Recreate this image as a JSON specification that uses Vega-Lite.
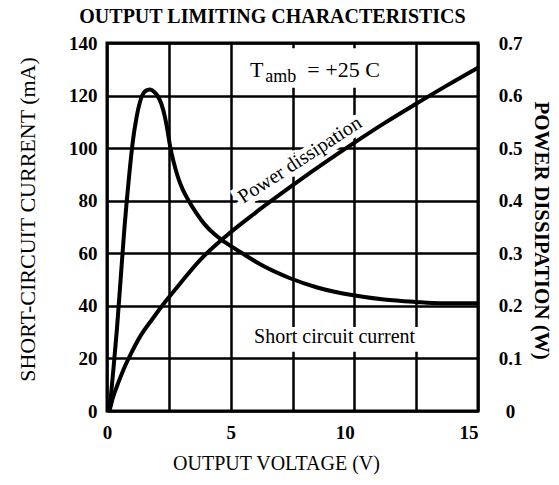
{
  "$schema": "https://vega.github.io/schema/vega-lite/v6.json",
  "width": 371,
  "height": 368,
  "autosize": "none",
  "padding": {"left": 107, "top": 43, "right": 81, "bottom": 74},
  "background": "white",
  "title": {
    "text": "OUTPUT LIMITING CHARACTERISTICS",
    "font": "Liberation Serif",
    "fontSize": 20,
    "fontWeight": "bold",
    "color": "black",
    "anchor": "middle",
    "frame": "group",
    "baseline": "alphabetic",
    "offset": -9,
    "dx": -20
  },
  "config": {
    "view": {"stroke": "black", "strokeWidth": 3},
    "font": "Liberation Serif",
    "axis": {
      "domain": false,
      "ticks": false,
      "gridColor": "black",
      "gridOpacity": 1,
      "gridWidth": 2.5,
      "labelColor": "black",
      "titleColor": "black",
      "labelFont": "Liberation Serif",
      "titleFont": "Liberation Serif",
      "labelFontWeight": "bold",
      "labelFontSize": 19
    }
  },
  "datasets": {
    "current": [
      {"V": 0.1, "I": 0}, {"V": 0.25, "I": 15}, {"V": 0.4, "I": 31}, {"V": 0.55, "I": 50},
      {"V": 0.7, "I": 69}, {"V": 0.9, "I": 90}, {"V": 1.05, "I": 103}, {"V": 1.2, "I": 112},
      {"V": 1.4, "I": 119.5}, {"V": 1.6, "I": 122}, {"V": 1.75, "I": 122.3}, {"V": 1.9, "I": 121.5},
      {"V": 2.05, "I": 119.8}, {"V": 2.2, "I": 116.8}, {"V": 2.35, "I": 111.5}, {"V": 2.45, "I": 106.5},
      {"V": 2.55, "I": 100.8}, {"V": 2.7, "I": 94.5}, {"V": 2.85, "I": 89.5}, {"V": 3.05, "I": 84.5},
      {"V": 3.3, "I": 80}, {"V": 3.6, "I": 75.5}, {"V": 3.95, "I": 71}, {"V": 4.35, "I": 67.2},
      {"V": 4.77, "I": 64.2}, {"V": 5.5, "I": 59.8}, {"V": 6.25, "I": 55.5}, {"V": 7.4, "I": 50.5},
      {"V": 8.5, "I": 47}, {"V": 9.96, "I": 44}, {"V": 11.2, "I": 42.4}, {"V": 12.45, "I": 41.5},
      {"V": 13.5, "I": 41}, {"V": 15, "I": 41}
    ],
    "power": [
      {"V": 0.1, "P": 0}, {"V": 0.25, "P": 0.027}, {"V": 0.45, "P": 0.053}, {"V": 0.66, "P": 0.078},
      {"V": 1.0, "P": 0.112}, {"V": 1.33, "P": 0.141}, {"V": 1.85, "P": 0.176}, {"V": 2.41, "P": 0.211},
      {"V": 3.0, "P": 0.245}, {"V": 3.76, "P": 0.287}, {"V": 4.77, "P": 0.331}, {"V": 6.0, "P": 0.377},
      {"V": 7.47, "P": 0.428}, {"V": 8.7, "P": 0.469}, {"V": 9.96, "P": 0.509}, {"V": 11.2, "P": 0.547},
      {"V": 12.45, "P": 0.583}, {"V": 13.7, "P": 0.618}, {"V": 15, "P": 0.653}
    ],
    "boxes": [
      {"V": 5.5, "V2": 11.5, "I": 123, "I2": 138},
      {"V": 5.4, "V2": 13.7, "I": 22.5, "I2": 32}
    ],
    "tT": [{"V": 6.05, "I": 127, "t": "T"}],
    "tAmb": [{"V": 6.4, "I": 125, "t": "amb"}],
    "tEq": [{"V": 8.1, "I": 127, "t": "= +25  C"}],
    "tShort": [{"V": 9.2, "I": 26, "t": "Short circuit current"}],
    "tPow": [{"V": 7.8, "I": 95.5, "t": "Power dissipation"}]
  },
  "layer": [
    {
      "layer": [
        {
          "data": {"name": "boxes"},
          "mark": {"type": "rect", "fill": "white"},
          "encoding": {
            "x": {"field": "V", "type": "quantitative"},
            "x2": {"field": "V2"},
            "y": {"field": "I", "type": "quantitative"},
            "y2": {"field": "I2"}
          }
        },
        {
          "data": {"name": "tPow"},
          "mark": {"type": "text", "font": "Liberation Serif", "fontSize": 20, "angle": -33, "align": "center", "baseline": "middle", "stroke": "white", "strokeWidth": 10, "fill": "white"},
          "encoding": {
            "x": {"field": "V", "type": "quantitative"},
            "y": {"field": "I", "type": "quantitative"},
            "text": {"field": "t"}
          }
        },
        {
          "data": {"name": "current"},
          "mark": {"type": "line", "color": "black", "strokeWidth": 4, "interpolate": "monotone"},
          "encoding": {
            "x": {
              "field": "V", "type": "quantitative",
              "scale": {"domain": [0, 15], "nice": false, "zero": false},
              "axis": {
                "values": [0, 2.5, 5, 7.5, 10, 12.5, 15],
                "labelExpr": "datum.value % 5 == 0 ? datum.label : ''",
                "labelAlign": {"condition": {"test": "datum.value >= 10", "value": "right"}, "value": "center"},
                "labelPadding": 12,
                "title": "OUTPUT VOLTAGE (V)",
                "titleFontSize": 20,
                "titleFontWeight": "normal",
                "titleX": 169,
                "titleY": 52,
                "titleBaseline": "middle",
                "titleAlign": "center",
                "grid": true
              }
            },
            "y": {
              "field": "I", "type": "quantitative",
              "scale": {"domain": [0, 140], "nice": false, "zero": false},
              "axis": {
                "values": [0, 10, 20, 30, 40, 50, 60, 70, 80, 90, 100, 110, 120, 130, 140],
                "labelExpr": "datum.value % 20 == 0 ? datum.label : ''",
                "labelPadding": 10,
                "title": "SHORT-CIRCUIT  CURRENT  (mA)",
                "titleFontSize": 22,
                "titleFontWeight": "normal",
                "titleAngle": 270,
                "titleX": -80,
                "titleY": 176,
                "titleBaseline": "middle",
                "titleAlign": "center",
                "grid": true
              }
            }
          }
        },
        {
          "data": {"name": "tT"},
          "mark": {"type": "text", "font": "Liberation Serif", "fontSize": 22, "align": "center", "baseline": "alphabetic", "color": "black"},
          "encoding": {
            "x": {"field": "V", "type": "quantitative"},
            "y": {"field": "I", "type": "quantitative"},
            "text": {"field": "t"}
          }
        },
        {
          "data": {"name": "tAmb"},
          "mark": {"type": "text", "font": "Liberation Serif", "fontSize": 18, "align": "left", "baseline": "alphabetic", "color": "black"},
          "encoding": {
            "x": {"field": "V", "type": "quantitative"},
            "y": {"field": "I", "type": "quantitative"},
            "text": {"field": "t"}
          }
        },
        {
          "data": {"name": "tEq"},
          "mark": {"type": "text", "font": "Liberation Serif", "fontSize": 22, "align": "left", "baseline": "alphabetic", "color": "black"},
          "encoding": {
            "x": {"field": "V", "type": "quantitative"},
            "y": {"field": "I", "type": "quantitative"},
            "text": {"field": "t"}
          }
        },
        {
          "data": {"name": "tShort"},
          "mark": {"type": "text", "font": "Liberation Serif", "fontSize": 20, "align": "center", "baseline": "alphabetic", "color": "black"},
          "encoding": {
            "x": {"field": "V", "type": "quantitative"},
            "y": {"field": "I", "type": "quantitative"},
            "text": {"field": "t"}
          }
        },
        {
          "data": {"name": "tPow"},
          "mark": {"type": "text", "font": "Liberation Serif", "fontSize": 20, "angle": -33, "align": "center", "baseline": "middle", "color": "black"},
          "encoding": {
            "x": {"field": "V", "type": "quantitative"},
            "y": {"field": "I", "type": "quantitative"},
            "text": {"field": "t"}
          }
        }
      ]
    },
    {
      "data": {"name": "power"},
      "mark": {"type": "line", "color": "black", "strokeWidth": 4, "interpolate": "monotone"},
      "encoding": {
        "x": {"field": "V", "type": "quantitative"},
        "y": {
          "field": "P", "type": "quantitative",
          "scale": {"domain": [0, 0.7], "nice": false, "zero": false},
          "axis": {
            "orient": "right",
            "values": [0, 0.1, 0.2, 0.3, 0.4, 0.5, 0.6, 0.7],
            "labelExpr": "datum.value == 0 ? '0' : format(datum.value, '.1f')",
            "labelAlign": "center",
            "labelPadding": 32,
            "grid": false,
            "title": "POWER  DISSIPATION  (W)",
            "titleFontSize": 21,
            "titleFontWeight": "bold",
            "titleAngle": 90,
            "titleX": 62,
            "titleY": 187,
            "titleBaseline": "middle",
            "titleAlign": "center"
          }
        }
      }
    }
  ],
  "resolve": {"scale": {"y": "independent"}}
}
